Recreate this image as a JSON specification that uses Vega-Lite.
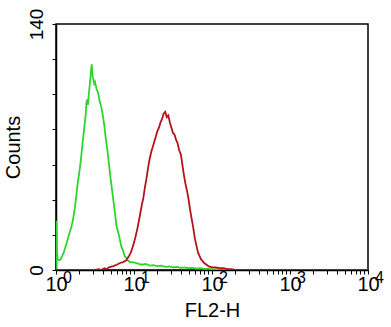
{
  "$schema": "https://vega.github.io/schema/vega-lite/v6.json",
  "width": 312,
  "height": 246,
  "autosize": {"type": "none"},
  "padding": {"left": 56, "top": 24, "right": 23, "bottom": 57},
  "background": "white",
  "config": {
    "view": {"stroke": "black", "strokeWidth": 1.5},
    "font": "Liberation Sans",
    "axis": {"grid": false, "domainColor": "black", "domainWidth": 1.5, "tickColor": "black", "tickWidth": 1, "labelColor": "black", "titleColor": "black", "labelFont": "Liberation Sans", "titleFont": "Liberation Sans", "titleFontWeight": "normal"}
  },
  "datasets": {
    "curves": [
      {"series": "control", "fl": 1, "count": 0},
      {"series": "control", "fl": 1.0116, "count": 28},
      {"series": "control", "fl": 1.028, "count": 12},
      {"series": "control", "fl": 1.047, "count": 6},
      {"series": "control", "fl": 1.096, "count": 5.5},
      {"series": "control", "fl": 1.148, "count": 6},
      {"series": "control", "fl": 1.202, "count": 8},
      {"series": "control", "fl": 1.259, "count": 10},
      {"series": "control", "fl": 1.318, "count": 13},
      {"series": "control", "fl": 1.38, "count": 16},
      {"series": "control", "fl": 1.445, "count": 19},
      {"series": "control", "fl": 1.514, "count": 22},
      {"series": "control", "fl": 1.585, "count": 25},
      {"series": "control", "fl": 1.66, "count": 29},
      {"series": "control", "fl": 1.738, "count": 35},
      {"series": "control", "fl": 1.82, "count": 42},
      {"series": "control", "fl": 1.905, "count": 50},
      {"series": "control", "fl": 1.995, "count": 56},
      {"series": "control", "fl": 2.089, "count": 63},
      {"series": "control", "fl": 2.188, "count": 72},
      {"series": "control", "fl": 2.291, "count": 80},
      {"series": "control", "fl": 2.399, "count": 88},
      {"series": "control", "fl": 2.455, "count": 95},
      {"series": "control", "fl": 2.512, "count": 97},
      {"series": "control", "fl": 2.57, "count": 94},
      {"series": "control", "fl": 2.63, "count": 100},
      {"series": "control", "fl": 2.692, "count": 104},
      {"series": "control", "fl": 2.754, "count": 109},
      {"series": "control", "fl": 2.818, "count": 114},
      {"series": "control", "fl": 2.871, "count": 117},
      {"series": "control", "fl": 2.951, "count": 110},
      {"series": "control", "fl": 3.02, "count": 108},
      {"series": "control", "fl": 3.09, "count": 106},
      {"series": "control", "fl": 3.162, "count": 107},
      {"series": "control", "fl": 3.311, "count": 103},
      {"series": "control", "fl": 3.467, "count": 101},
      {"series": "control", "fl": 3.631, "count": 96},
      {"series": "control", "fl": 3.802, "count": 93},
      {"series": "control", "fl": 3.981, "count": 88},
      {"series": "control", "fl": 4.169, "count": 82},
      {"series": "control", "fl": 4.365, "count": 74},
      {"series": "control", "fl": 4.571, "count": 68},
      {"series": "control", "fl": 4.786, "count": 60},
      {"series": "control", "fl": 5.012, "count": 52},
      {"series": "control", "fl": 5.248, "count": 45},
      {"series": "control", "fl": 5.495, "count": 38},
      {"series": "control", "fl": 5.754, "count": 31},
      {"series": "control", "fl": 5.888, "count": 27},
      {"series": "control", "fl": 6.026, "count": 24},
      {"series": "control", "fl": 6.31, "count": 21},
      {"series": "control", "fl": 6.607, "count": 17},
      {"series": "control", "fl": 6.918, "count": 13},
      {"series": "control", "fl": 7.244, "count": 11},
      {"series": "control", "fl": 7.586, "count": 8},
      {"series": "control", "fl": 7.943, "count": 7},
      {"series": "control", "fl": 8.318, "count": 5.5},
      {"series": "control", "fl": 8.913, "count": 4.5},
      {"series": "control", "fl": 9.55, "count": 4.5},
      {"series": "control", "fl": 10.47, "count": 4},
      {"series": "control", "fl": 11.48, "count": 3.5},
      {"series": "control", "fl": 12.59, "count": 3},
      {"series": "control", "fl": 14.13, "count": 3.5},
      {"series": "control", "fl": 15.85, "count": 2.5},
      {"series": "control", "fl": 17.78, "count": 2.8},
      {"series": "control", "fl": 19.95, "count": 2.2},
      {"series": "control", "fl": 22.39, "count": 2.5},
      {"series": "control", "fl": 25.12, "count": 1.8},
      {"series": "control", "fl": 28.18, "count": 2},
      {"series": "control", "fl": 31.62, "count": 1.5},
      {"series": "control", "fl": 35.48, "count": 1.8},
      {"series": "control", "fl": 39.81, "count": 1.2},
      {"series": "control", "fl": 44.67, "count": 1.5},
      {"series": "control", "fl": 50.12, "count": 1},
      {"series": "control", "fl": 56.23, "count": 1.2},
      {"series": "control", "fl": 63.1, "count": 0.8},
      {"series": "control", "fl": 70.79, "count": 1},
      {"series": "control", "fl": 79.43, "count": 0.6},
      {"series": "control", "fl": 89.13, "count": 0.8},
      {"series": "control", "fl": 100, "count": 0.4},
      {"series": "control", "fl": 112.2, "count": 0.5},
      {"series": "control", "fl": 125.9, "count": 0.2},
      {"series": "control", "fl": 141.3, "count": 0},
      {"series": "control", "fl": 10000, "count": 0},
      {"series": "sample", "fl": 1, "count": 0},
      {"series": "sample", "fl": 3.162, "count": 0},
      {"series": "sample", "fl": 3.548, "count": 0.5},
      {"series": "sample", "fl": 3.802, "count": 0},
      {"series": "sample", "fl": 4.169, "count": 1},
      {"series": "sample", "fl": 4.467, "count": 0.5},
      {"series": "sample", "fl": 4.786, "count": 1.5},
      {"series": "sample", "fl": 5.248, "count": 2},
      {"series": "sample", "fl": 5.623, "count": 2.5},
      {"series": "sample", "fl": 6.026, "count": 3},
      {"series": "sample", "fl": 6.607, "count": 4},
      {"series": "sample", "fl": 7.244, "count": 4.5},
      {"series": "sample", "fl": 7.943, "count": 5.5},
      {"series": "sample", "fl": 8.511, "count": 7.5},
      {"series": "sample", "fl": 9.12, "count": 10},
      {"series": "sample", "fl": 9.772, "count": 14},
      {"series": "sample", "fl": 10.47, "count": 19},
      {"series": "sample", "fl": 11.22, "count": 25},
      {"series": "sample", "fl": 12.02, "count": 32},
      {"series": "sample", "fl": 12.59, "count": 37},
      {"series": "sample", "fl": 13.18, "count": 41},
      {"series": "sample", "fl": 13.8, "count": 47},
      {"series": "sample", "fl": 14.45, "count": 52},
      {"series": "sample", "fl": 15.14, "count": 58},
      {"series": "sample", "fl": 15.85, "count": 63},
      {"series": "sample", "fl": 16.6, "count": 67},
      {"series": "sample", "fl": 17.38, "count": 70},
      {"series": "sample", "fl": 18.2, "count": 73},
      {"series": "sample", "fl": 19.05, "count": 76},
      {"series": "sample", "fl": 19.95, "count": 79},
      {"series": "sample", "fl": 20.89, "count": 81},
      {"series": "sample", "fl": 21.88, "count": 84},
      {"series": "sample", "fl": 22.91, "count": 86},
      {"series": "sample", "fl": 23.99, "count": 89},
      {"series": "sample", "fl": 25.12, "count": 90},
      {"series": "sample", "fl": 26.3, "count": 87},
      {"series": "sample", "fl": 27.54, "count": 88},
      {"series": "sample", "fl": 28.84, "count": 84},
      {"series": "sample", "fl": 30.2, "count": 81},
      {"series": "sample", "fl": 31.62, "count": 78},
      {"series": "sample", "fl": 33.11, "count": 77},
      {"series": "sample", "fl": 34.67, "count": 74},
      {"series": "sample", "fl": 36.31, "count": 72},
      {"series": "sample", "fl": 38.02, "count": 68},
      {"series": "sample", "fl": 39.81, "count": 66},
      {"series": "sample", "fl": 41.69, "count": 60},
      {"series": "sample", "fl": 43.65, "count": 54},
      {"series": "sample", "fl": 45.71, "count": 49},
      {"series": "sample", "fl": 47.86, "count": 45},
      {"series": "sample", "fl": 50.12, "count": 40},
      {"series": "sample", "fl": 52.48, "count": 34},
      {"series": "sample", "fl": 54.95, "count": 29},
      {"series": "sample", "fl": 57.54, "count": 24},
      {"series": "sample", "fl": 60.26, "count": 18},
      {"series": "sample", "fl": 63.1, "count": 14},
      {"series": "sample", "fl": 66.07, "count": 10},
      {"series": "sample", "fl": 69.18, "count": 8},
      {"series": "sample", "fl": 72.44, "count": 6},
      {"series": "sample", "fl": 75.86, "count": 5},
      {"series": "sample", "fl": 79.43, "count": 4},
      {"series": "sample", "fl": 85.11, "count": 3},
      {"series": "sample", "fl": 91.2, "count": 2},
      {"series": "sample", "fl": 100, "count": 1.5},
      {"series": "sample", "fl": 112.2, "count": 1.5},
      {"series": "sample", "fl": 125.9, "count": 1},
      {"series": "sample", "fl": 141.3, "count": 1},
      {"series": "sample", "fl": 158.5, "count": 0.5},
      {"series": "sample", "fl": 177.8, "count": 0.5},
      {"series": "sample", "fl": 199.5, "count": 0},
      {"series": "sample", "fl": 10000, "count": 0}
    ],
    "exponents": [
      {"fl": 1, "exp": "0"},
      {"fl": 10, "exp": "1"},
      {"fl": 100, "exp": "2"},
      {"fl": 1000, "exp": "3"},
      {"fl": 10000, "exp": "4"}
    ]
  },
  "layer": [
    {
      "data": {"name": "curves"},
      "mark": {"type": "line", "strokeWidth": 1.8, "clip": true},
      "encoding": {
        "x": {
          "field": "fl", "type": "quantitative",
          "scale": {"type": "log", "domain": [1, 10000], "nice": false},
          "axis": {
            "title": "FL2-H", "titleFontSize": 20, "titlePadding": 6,
            "values": [1,2,3,4,5,6,7,8,9,10,20,30,40,50,60,70,80,90,100,200,300,400,500,600,700,800,900,1000,2000,3000,4000,5000,6000,7000,8000,9000,10000],
            "labelExpr": "(datum.value == 1 || datum.value == 10 || datum.value == 100 || datum.value == 1000 || datum.value == 10000) ? '10' : ''",
            "labelFontSize": 20, "labelOverlap": false, "labelFlush": false, "tickSize": 4, "labelPadding": 0, "labelDx": -5
          }
        },
        "y": {
          "field": "count", "type": "quantitative",
          "scale": {"domain": [0, 140], "nice": false},
          "axis": {
            "title": "Counts", "titleFontSize": 20, "titlePadding": 4,
            "values": [0,20,40,60,80,100,120,140],
            "labelExpr": "datum.value == 0 || datum.value == 140 ? datum.label : ''",
            "labelFontSize": 19, "labelAngle": 270, "labelAlign": "center", "labelBaseline": "bottom",
            "labelOverlap": false, "tickSize": 4, "labelPadding": 6
          }
        },
        "color": {
          "field": "series", "type": "nominal",
          "scale": {"domain": ["control", "sample"], "range": ["#2fd42f", "#b3141c"]},
          "legend": null
        }
      }
    },
    {
      "data": {"name": "exponents"},
      "mark": {"type": "text", "align": "left", "baseline": "alphabetic", "fontSize": 16, "font": "Liberation Sans", "color": "black", "dx": 7, "dy": 13, "clip": false},
      "encoding": {
        "x": {
          "field": "fl", "type": "quantitative",
          "scale": {"type": "log", "domain": [1, 10000], "nice": false},
          "axis": {
            "title": "FL2-H", "titleFontSize": 20, "titlePadding": 6,
            "values": [1,2,3,4,5,6,7,8,9,10,20,30,40,50,60,70,80,90,100,200,300,400,500,600,700,800,900,1000,2000,3000,4000,5000,6000,7000,8000,9000,10000],
            "labelExpr": "(datum.value == 1 || datum.value == 10 || datum.value == 100 || datum.value == 1000 || datum.value == 10000) ? '10' : ''",
            "labelFontSize": 20, "labelOverlap": false, "labelFlush": false, "tickSize": 4, "labelPadding": 0, "labelDx": -5
          }
        },
        "y": {
          "datum": 0, "type": "quantitative",
          "scale": {"domain": [0, 140], "nice": false},
          "axis": {
            "title": "Counts", "titleFontSize": 20, "titlePadding": 4,
            "values": [0,20,40,60,80,100,120,140],
            "labelExpr": "datum.value == 0 || datum.value == 140 ? datum.label : ''",
            "labelFontSize": 19, "labelAngle": 270, "labelAlign": "center", "labelBaseline": "bottom",
            "labelOverlap": false, "tickSize": 4, "labelPadding": 6
          }
        },
        "text": {"field": "exp"}
      }
    }
  ]
}
